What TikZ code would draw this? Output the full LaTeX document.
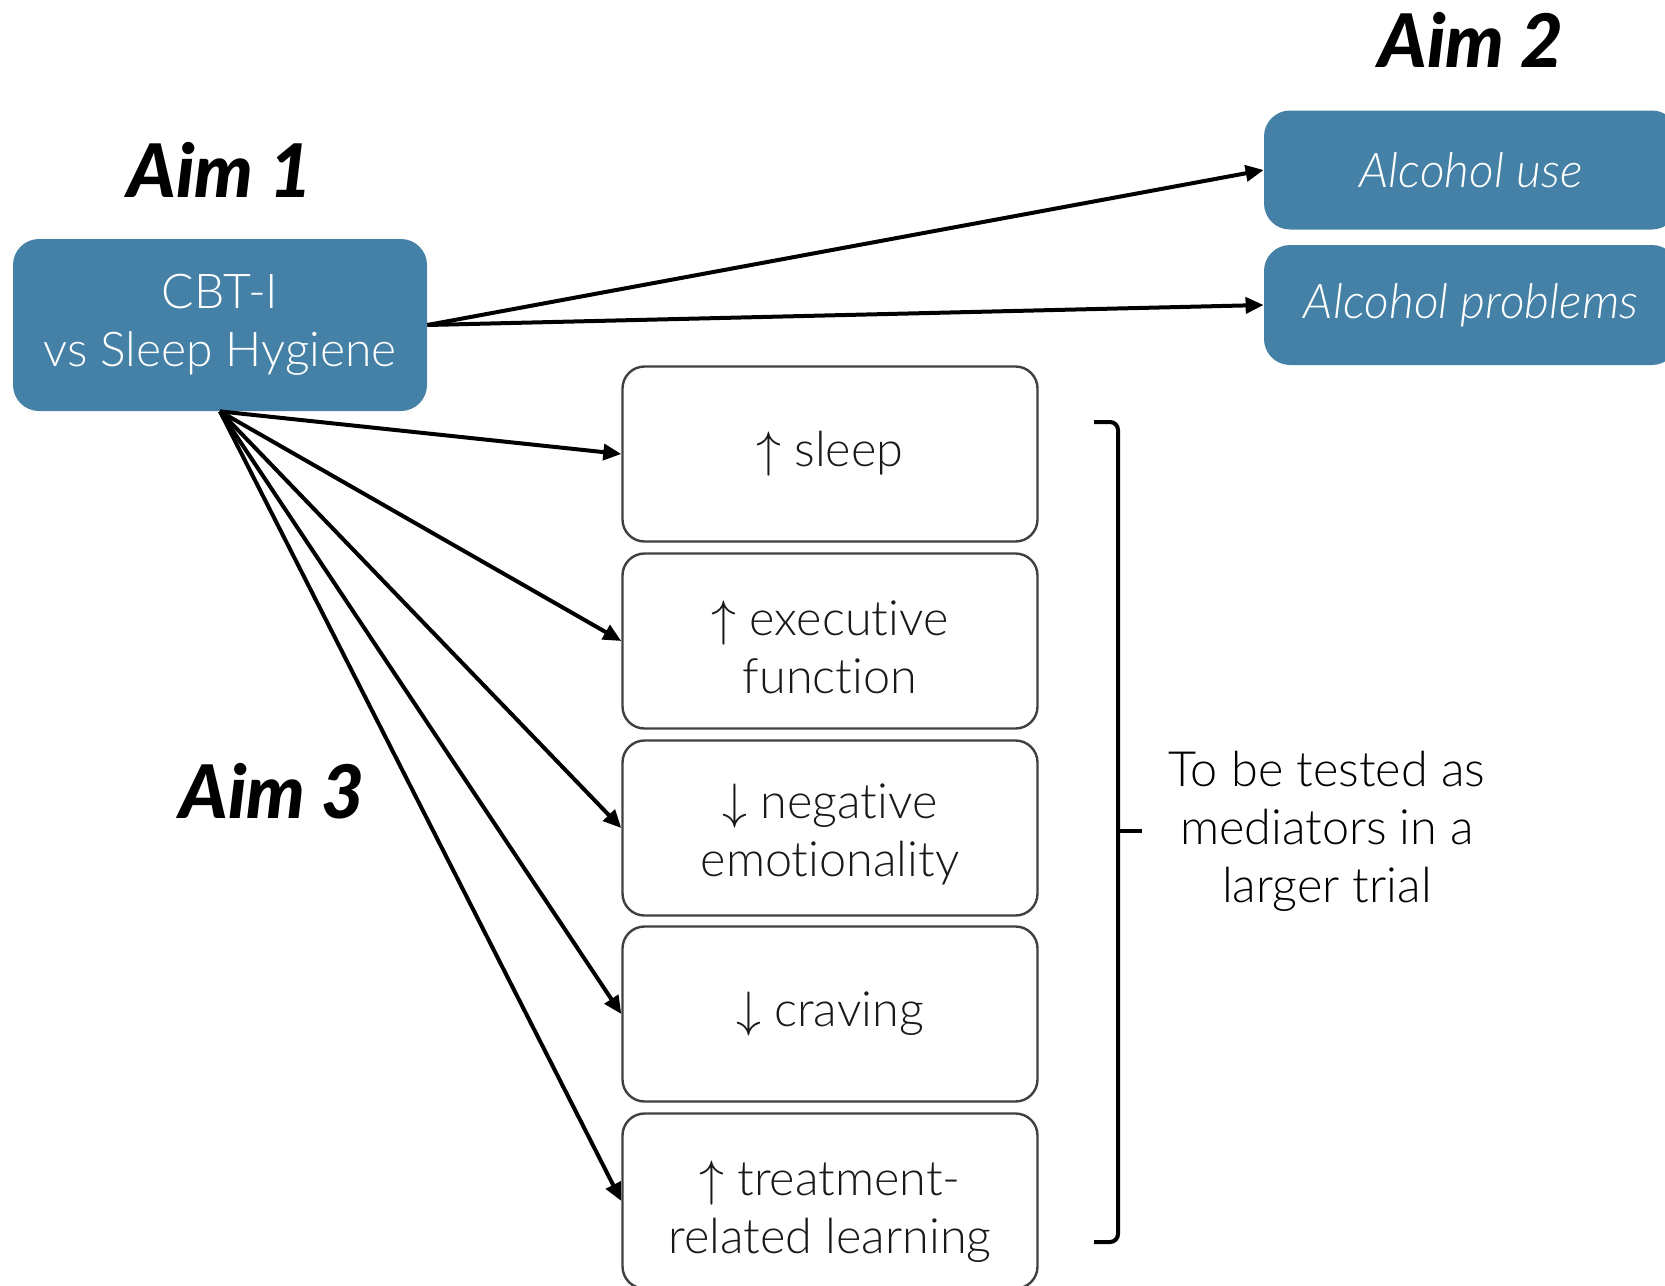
\documentclass[tikz,border=0pt]{standalone}
\usepackage{fontspec}
\setmainfont{Lato}[UprightFont={* Light},ItalicFont={* Light Italic},BoldItalicFont={* Black Italic},Ligatures=NoCommon]
\usepackage{tikz}
\usetikzlibrary{arrows.meta}

\definecolor{aimblue}{HTML}{4581A7}
\definecolor{boxline}{HTML}{404040}

\tikzset{
  bluebox/.style={fill=aimblue, rounded corners=13pt, text=white, align=center,
    minimum width=207pt, font=\fontsize{24}{29}\selectfont},
  medbox/.style={draw=boxline, line width=1.2pt, rounded corners=11pt, align=center,
    minimum width=207.5pt, minimum height=87.5pt, text=black!90,
    font=\fontsize{24.3}{29}\selectfont},
  twoline/.style={text height=52.8pt},
  aimlabel/.style={font=\fontsize{37}{40}\selectfont\bfseries\itshape},
  link/.style={->, line width=2pt}
}

\begin{document}
\begin{tikzpicture}[x=0.5pt, y=-0.5pt, >={Triangle[length=9pt,width=8pt]}]
\useasboundingbox (0,0) rectangle (1665,1285);
\clip (0,0) rectangle (1665,1285);

% treatment and outcomes
\node [bluebox, minimum height=86pt] (cbt) at (220,325) {CBT-I\\vs Sleep Hygiene};
\node [bluebox, minimum height=59.5pt, font=\fontsize{24}{29}\selectfont\itshape] (use) at (1471,170) {Alcohol use};
\node [bluebox, minimum height=60pt, font=\fontsize{24}{29}\selectfont\itshape] (problems) at (1471,305) {Alcohol problems};

% mediators
\node [medbox] (sleep) at (830,454) {$\uparrow$ sleep};
\node [medbox, twoline] (exec)  at (830,641) {$\uparrow$ executive\\function};
\node [medbox, twoline] (neg)   at (830,828) {$\downarrow$ negative\\emotionality};
\node [medbox] (crav)  at (830,1014) {$\downarrow$ craving};
\node [medbox, text height=57pt] (learn) at (830,1201) {$\uparrow$ treatment-\\related learning};

\node [aimlabel] (aim1) at (220,170) {Aim 1};
\node [aimlabel] (aim2) at (1471,40) {Aim 2};
\node [aimlabel] (aim3) at (272,791) {Aim 3};

\draw [link] (cbt.east) -- (use.west);
\draw [link] (cbt.east) -- (problems.west);
\foreach \m in {sleep,exec,neg,crav,learn}
  \draw [link] (cbt.south) -- (\m.west);

% bracket
\draw [line width=2pt, rounded corners=4pt] (1094,422) -- (1118,422) -- (1118,1242) -- (1094,1242);
\draw [line width=2pt] (1118,831) -- (1142,831);
\node [font=\fontsize{24.3}{29}\selectfont, align=center] (trial) at (1327,831) {To be tested as\\mediators in a\\larger trial};
\end{tikzpicture}
\end{document}
